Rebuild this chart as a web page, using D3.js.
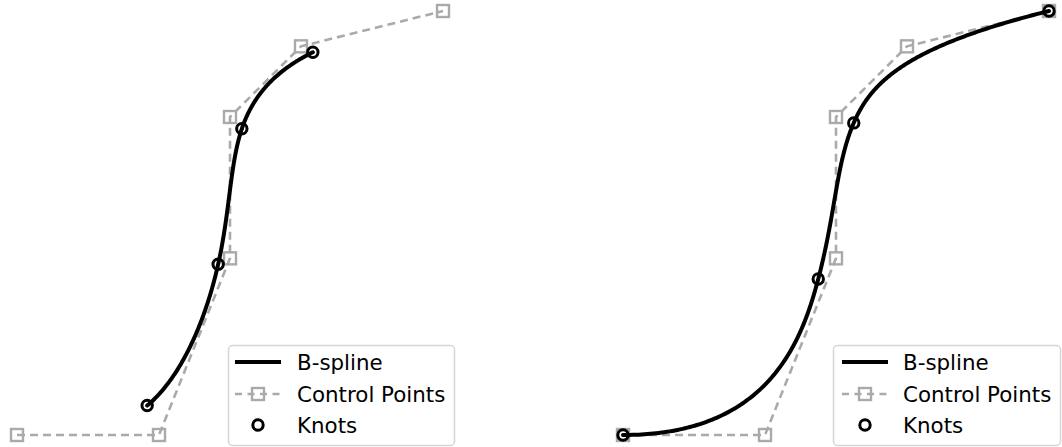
<!DOCTYPE html>
<html>
<head>
<meta charset="utf-8">
<script src="https://cdn.jsdelivr.net/npm/d3@7"></script>
<style>
  html, body { margin: 0; padding: 0; background: #fff; }
  svg { display: block; }
  text { font-family: "DejaVu Sans", sans-serif; }
</style>
</head>
<body>
<svg id="chart" width="1062" height="447"></svg>
<script>
// Control polygon shared by both panels
const ctrlX = [0, 2, 3, 3, 4, 6];
const ctrlY = [0, 0, 5, 9, 11, 12];
const degree = 3;

// Knot vectors: uniform (unclamped) on the left, clamped on the right
const knotsUniform = [0, 1, 2, 3, 4, 5, 6, 7, 8, 9];
const knotsClamped = [0, 0, 0, 0, 1, 2, 3, 3, 3, 3];

const legendLabels = ["B-spline", "Control Points", "Knots"];

const panels = [
  { knots: knotsUniform, xRange: [17, 443], legend: { x: 228, y: 345, w: 226, h: 100, sx: 235, tx: 297 } },
  { knots: knotsClamped, xRange: [623, 1049], legend: { x: 833, y: 345, w: 227, h: 100, sx: 842, tx: 903 } }
];

const pts = ctrlX.map((x, i) => [x, ctrlY[i]]);

// de Boor evaluation of a B-spline point at parameter u
function deBoor(u, t, P, p) {
  const n = P.length;
  let k = p;
  for (let i = p; i < n; i++) { if (u >= t[i] && u < t[i + 1]) { k = i; break; } }
  if (u >= t[n]) k = n - 1;
  const d = [];
  for (let j = 0; j <= p; j++) d.push(P[j + k - p].slice());
  for (let r = 1; r <= p; r++) {
    for (let j = p; j >= r; j--) {
      const denom = t[j + 1 + k - r] - t[j + k - p];
      const a = denom === 0 ? 0 : (u - t[j + k - p]) / denom;
      d[j] = [(1 - a) * d[j - 1][0] + a * d[j][0], (1 - a) * d[j - 1][1] + a * d[j][1]];
    }
  }
  return d[p];
}

const svg = d3.select("#chart");
const y = d3.scaleLinear().domain([0, 12]).range([435, 11]);

const gray = "#aaaaaa";
const dash = "8,5";

panels.forEach(panel => {
  const x = d3.scaleLinear().domain([0, 6]).range(panel.xRange);
  const g = svg.append("g");
  const t = panel.knots;
  const u0 = t[degree], u1 = t[t.length - 1 - degree];

  const curve = d3.range(0, 401).map(i => deBoor(u0 + (u1 - u0) * i / 400, t, pts, degree));
  const knotPts = d3.range(u0, u1 + 1).map(u => deBoor(u, t, pts, degree));

  const line = d3.line().x(d => x(d[0])).y(d => y(d[1]));

  // control polygon
  g.append("path").attr("d", line(pts))
    .attr("fill", "none").attr("stroke", gray).attr("stroke-width", 2.6)
    .attr("stroke-dasharray", dash);
  g.selectAll("rect.cp").data(pts).enter().append("rect")
    .attr("class", "cp")
    .attr("x", d => x(d[0]) - 6).attr("y", d => y(d[1]) - 6)
    .attr("width", 12).attr("height", 12)
    .attr("fill", "none").attr("stroke", gray).attr("stroke-width", 2.4);

  // spline curve
  g.append("path").attr("d", line(curve))
    .attr("fill", "none").attr("stroke", "#000").attr("stroke-width", 4)
    .attr("stroke-linecap", "round");

  // knot markers
  g.selectAll("circle.knot").data(knotPts).enter().append("circle")
    .attr("class", "knot")
    .attr("cx", d => x(d[0])).attr("cy", d => y(d[1])).attr("r", 5.2)
    .attr("fill", "none").attr("stroke", "#000").attr("stroke-width", 3);

  // legend
  const L = panel.legend;
  const lg = svg.append("g");
  lg.append("rect").attr("x", L.x + 0.5).attr("y", L.y + 0.5).attr("width", L.w).attr("height", L.h)
    .attr("rx", 4).attr("fill", "#fff").attr("fill-opacity", 0.8)
    .attr("stroke", "#d6d6d6").attr("stroke-width", 1.5);
  const rowY = [362, 394, 425];
  const sw = 46;
  lg.append("line").attr("x1", L.sx).attr("x2", L.sx + sw).attr("y1", rowY[0]).attr("y2", rowY[0])
    .attr("stroke", "#000").attr("stroke-width", 4);
  lg.append("line").attr("x1", L.sx).attr("x2", L.sx + sw).attr("y1", rowY[1]).attr("y2", rowY[1])
    .attr("stroke", gray).attr("stroke-width", 2.6).attr("stroke-dasharray", "7,5.5");
  lg.append("rect").attr("x", L.sx + sw / 2 - 6).attr("y", rowY[1] - 6).attr("width", 12).attr("height", 12)
    .attr("fill", "none").attr("stroke", gray).attr("stroke-width", 2.4);
  lg.append("circle").attr("cx", L.sx + sw / 2).attr("cy", rowY[2]).attr("r", 5.2)
    .attr("fill", "none").attr("stroke", "#000").attr("stroke-width", 3);
  lg.selectAll("text").data(legendLabels).enter().append("text")
    .attr("x", L.tx).attr("y", (d, i) => rowY[i] + 7.5)
    .attr("font-size", "21.4px").attr("fill", "#000")
    .text(d => d);
});
</script>
</body>
</html>
